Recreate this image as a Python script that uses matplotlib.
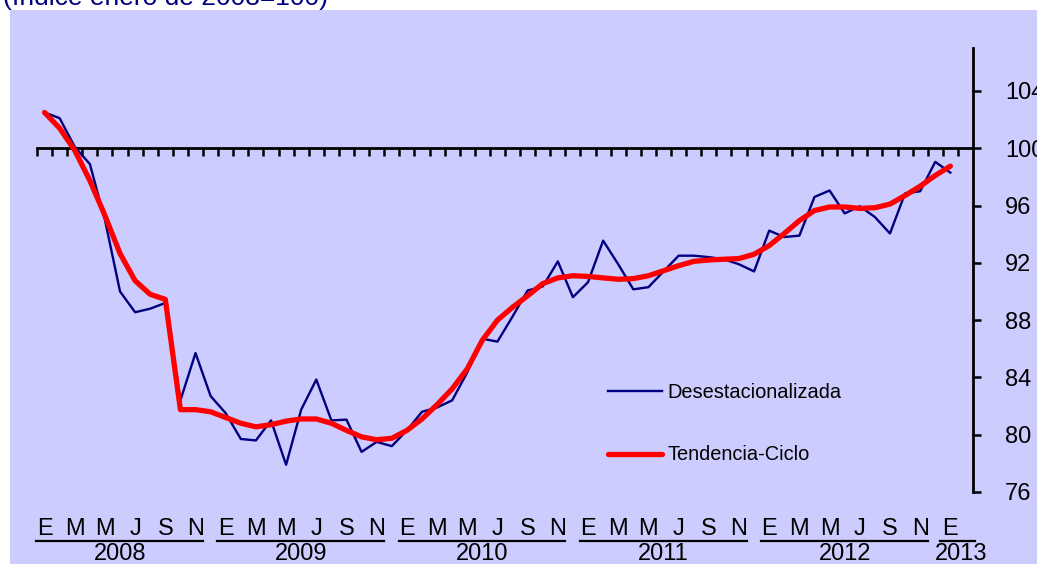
import numpy as np
import matplotlib.pyplot as plt
import matplotlib.transforms as mtransforms
from matplotlib.patches import Rectangle

plt.rcParams['font.family'] = ['Liberation Sans', 'DejaVu Sans']

# Monthly index, Jan 2008 .. Jan 2013 (January 2008 = 100)
desestacionalizada = [
    102.5, 102.1, 100.1, 98.9, 95.0, 90.0, 88.55, 88.8, 89.2, 82.4, 85.7, 82.7,
    81.5, 79.7, 79.6, 81.0, 77.9, 81.75, 83.85, 81.0, 81.05, 78.8, 79.5, 79.2,
    80.3, 81.6, 81.9, 82.4, 84.35, 86.7, 86.5, 88.25, 90.07, 90.35, 92.1, 89.6,
    90.65, 93.55, 91.9, 90.15, 90.3, 91.4, 92.5, 92.5, 92.4, 92.25, 91.9, 91.4,
    94.25, 93.8, 93.9, 96.6, 97.05, 95.45, 95.95, 95.2, 94.05, 96.85, 97.0, 99.05,
    98.3]
tendencia = [
    102.5, 101.4, 99.85, 97.75, 95.3, 92.65, 90.75, 89.8, 89.45, 81.75, 81.75, 81.6,
    81.2, 80.8, 80.55, 80.7, 80.95, 81.1, 81.1, 80.8, 80.3, 79.85, 79.65, 79.75,
    80.3, 81.1, 82.1, 83.2, 84.6, 86.6, 88.0, 88.9, 89.7, 90.55, 90.95, 91.1,
    91.05, 90.95, 90.85, 90.9, 91.1, 91.45, 91.8, 92.1, 92.2, 92.25, 92.3, 92.6,
    93.2, 94.05, 94.95, 95.65, 95.9, 95.9, 95.8, 95.85, 96.1, 96.7, 97.35, 98.1,
    98.75]
month_letters = ['E', 'M', 'M', 'J', 'S', 'N']
years = ['2008', '2009', '2010', '2011', '2012', '2013']
yticks = [76, 80, 84, 88, 92, 96, 100, 104]

W, H = 1037, 564
fig = plt.figure(figsize=(W / 100, H / 100), dpi=100)
fig.patch.set_facecolor('white')

# lavender panel behind everything
fig.patches.append(Rectangle((10 / W, 0), 1 - 10 / W, 1 - 10 / H,
                             transform=fig.transFigure, facecolor='#CCCCFF',
                             edgecolor='none', zorder=-10))

fig.text(3 / W, 1 - 5 / H, '(Índice enero de 2008=100)', fontsize=19,
         color='#000080', ha='left', va='baseline')

ax = fig.add_axes([37 / W, 1 - 492 / H, 936 / W, 444 / H])
ax.set_facecolor('none')

x = np.arange(len(desestacionalizada))
ax.plot(x, desestacionalizada, color='#000080', lw=1.7,
        label='Desestacionalizada', zorder=3)
ax.plot(x, tendencia, color='#FF0000', lw=3.8, solid_capstyle='round',
        label='Tendencia-Ciclo', zorder=4)

ax.set_xlim(-0.5, 61.5)
ax.set_ylim(76, 107)

for s in ['top', 'left']:
    ax.spines[s].set_visible(False)
ax.spines['bottom'].set_position(('data', 100))
ax.spines['bottom'].set_linewidth(2)
ax.spines['right'].set_linewidth(2)

ax.set_xticks(np.arange(-0.5, 61, 1))
ax.tick_params(axis='x', direction='out', length=6, width=1.8,
               labelbottom=False)
ax.yaxis.tick_right()
ax.set_yticks(yticks)
ax.tick_params(axis='y', direction='out', length=6, width=1.8, pad=17,
               labelsize=17)

# month letters, underlines and year labels below the plot
trans = mtransforms.blended_transform_factory(ax.transData, fig.transFigure)
for k, yr in enumerate(years):
    n_months = 12 if k < 5 else 1
    for m in range(0, n_months, 2):
        ax.text(12 * k + m, 1 - 535 / H, month_letters[m // 2], fontsize=17,
                ha='center', va='baseline', transform=trans, clip_on=False)
    if k < 5:
        x0, x1, xc = 12 * k - 0.55, 12 * k + 10.5, 12 * k + 5
    else:
        x0, x1, xc = 59.3, 61.6, 60.7
    ax.plot([x0, x1], [1 - 541 / H] * 2, color='black', lw=1.6,
            transform=trans, clip_on=False)
    ax.text(xc, 1 - 560 / H, yr, fontsize=17, ha='center', va='baseline',
            transform=trans, clip_on=False)

ax.legend(loc='center left', bbox_to_anchor=(608 / W, 1 - 423.5 / H),
          bbox_transform=fig.transFigure, frameon=False, fontsize=14.4,
          handlelength=2.7, handletextpad=0.25, labelspacing=2.2,
          borderpad=0, borderaxespad=0)

fig.savefig('out.png', dpi=100)
